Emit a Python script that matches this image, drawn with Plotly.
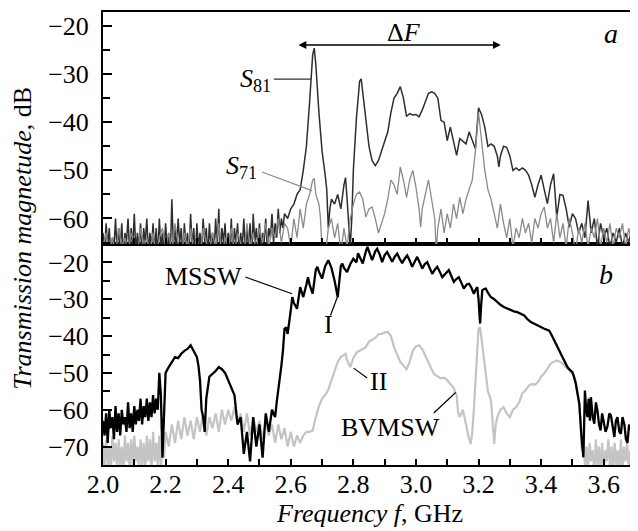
import plotly.graph_objects as go

# ---------------- data ----------------
# Panel a: S81 (dark) and S71 (grey), frequency in GHz, dB
S81_FREQ = [
    2.000, 2.005, 2.010, 2.015, 2.020, 2.025, 2.030, 2.035, 2.040, 2.045,
    2.050, 2.055, 2.060, 2.065, 2.070, 2.075, 2.080, 2.085, 2.090, 2.095,
    2.100, 2.105, 2.110, 2.115, 2.120, 2.125, 2.130, 2.135, 2.140, 2.145,
    2.150, 2.155, 2.160, 2.165, 2.170, 2.175, 2.180, 2.185, 2.190, 2.195,
    2.200, 2.205, 2.210, 2.215, 2.220, 2.225, 2.230, 2.235, 2.240, 2.245,
    2.250, 2.255, 2.260, 2.265, 2.270, 2.275, 2.280, 2.285, 2.290, 2.295,
    2.300, 2.305, 2.310, 2.315, 2.320, 2.325, 2.330, 2.335, 2.340, 2.345,
    2.350, 2.355, 2.360, 2.365, 2.370, 2.375, 2.380, 2.385, 2.390, 2.395,
    2.400, 2.405, 2.410, 2.415, 2.420, 2.425, 2.430, 2.435, 2.440, 2.445,
    2.450, 2.455, 2.460, 2.465, 2.470, 2.475, 2.480, 2.485, 2.490, 2.495,
    2.500, 2.505, 2.510, 2.515, 2.520, 2.525, 2.530, 2.535, 2.540, 2.545,
    2.550, 2.555, 2.560, 2.565, 2.570, 2.575, 2.580,
    2.59, 2.60, 2.61, 2.62, 2.63, 2.64, 2.65, 2.66, 2.67, 2.675,
    2.68, 2.69, 2.70, 2.71, 2.715, 2.72, 2.725, 2.73, 2.74, 2.75,
    2.76, 2.77, 2.775, 2.78, 2.785, 2.79, 2.795, 2.80, 2.81, 2.82,
    2.825, 2.83, 2.84, 2.85, 2.86, 2.87, 2.88, 2.89, 2.90, 2.91,
    2.92, 2.93, 2.94, 2.95, 2.96, 2.97, 2.98, 2.99, 3.00, 3.01,
    3.02, 3.03, 3.04, 3.05, 3.06, 3.07, 3.08, 3.09, 3.10, 3.11,
    3.12, 3.13, 3.14, 3.15, 3.16, 3.17, 3.18, 3.19, 3.20, 3.21,
    3.22, 3.23, 3.24, 3.25, 3.26, 3.265, 3.27, 3.28, 3.29, 3.30,
    3.31, 3.32, 3.33, 3.34, 3.35, 3.36, 3.37, 3.38, 3.39, 3.40,
    3.41, 3.42, 3.43, 3.44, 3.45, 3.46, 3.47, 3.48, 3.49, 3.50,
    3.51, 3.52, 3.53, 3.54, 3.55, 3.56, 3.57, 3.58, 3.59, 3.60,
    3.61, 3.62, 3.63, 3.64, 3.65, 3.66, 3.67, 3.68, 3.69, 3.70,
]
S81_DB = [
    -63, -67, -61, -66, -62, -68, -64, -66, -60, -67,
    -62, -66, -61, -68, -63, -65, -60, -67, -62, -66,
    -59, -67, -63, -66, -61, -68, -62, -65, -60, -67,
    -63, -66, -61, -67, -62, -68, -60, -66, -63, -67,
    -61, -66, -63, -68, -56, -66, -62, -67, -60, -65,
    -62, -68, -61, -66, -63, -67, -59, -66, -62, -68,
    -61, -66, -63, -67, -60, -65, -62, -68, -61, -66,
    -63, -67, -60, -66, -58, -68, -62, -65, -61, -67,
    -63, -66, -60, -68, -62, -65, -61, -67, -63, -66,
    -60, -67, -62, -66, -61, -68, -59, -65, -62, -66,
    -61, -67, -63, -65, -60, -66, -62, -64, -59, -65,
    -61, -64, -58, -63, -60, -62, -59,
    -60, -58, -57, -55, -54, -50, -45, -36, -26, -24.6,
    -28, -38, -46, -51, -54, -62, -58, -56, -57, -55,
    -58, -53, -51.5, -56, -62, -66, -60, -50, -39, -31.5,
    -31, -34, -39, -45, -48, -49, -48, -46, -44, -42,
    -38, -35, -34, -32.6, -35, -38.8, -38.2, -38.5, -38.4, -38.9,
    -37.5, -35.5, -34, -33.7, -34, -35, -39.6, -40, -43.8, -41,
    -44, -46.9, -43.4, -44, -44.5, -42, -44, -45.5, -37, -38.5,
    -41, -45, -44.5, -45, -47, -49.3, -47, -45, -45.2, -47,
    -50, -49.5, -50, -49.5, -50, -51, -53, -55.6, -53, -51,
    -54, -56.9, -53, -50.7, -59.7, -55, -55.2, -58, -61.8, -59,
    -60, -63, -61, -64, -56.3, -63, -60, -66, -61, -64,
    -62, -66, -63, -65, -62, -66, -63, -65, -62, -64,
]

S71_FREQ = [
    2.00, 2.01, 2.02, 2.03, 2.04, 2.05, 2.06, 2.07, 2.08, 2.09,
    2.10, 2.11, 2.12, 2.13, 2.14, 2.15, 2.16, 2.17, 2.18, 2.19,
    2.20, 2.21, 2.22, 2.23, 2.24, 2.25, 2.26, 2.27, 2.28, 2.29,
    2.30, 2.31, 2.32, 2.33, 2.34, 2.35, 2.36, 2.37, 2.38, 2.39,
    2.40, 2.41, 2.42, 2.43, 2.44, 2.45, 2.46, 2.47, 2.48, 2.49,
    2.50, 2.51, 2.52, 2.53, 2.54, 2.55, 2.56, 2.57, 2.58,
    2.59, 2.60, 2.61, 2.62, 2.63, 2.64, 2.65, 2.66, 2.67, 2.675,
    2.68, 2.69, 2.695, 2.70, 2.71, 2.72, 2.73, 2.74, 2.75, 2.76,
    2.77, 2.78, 2.79, 2.80, 2.81, 2.82, 2.83, 2.84, 2.85, 2.86,
    2.87, 2.88, 2.89, 2.90, 2.91, 2.92, 2.93, 2.94, 2.95, 2.96,
    2.97, 2.98, 2.99, 3.00, 3.01, 3.015, 3.02, 3.03, 3.04, 3.05,
    3.06, 3.065, 3.07, 3.08, 3.09, 3.10, 3.11, 3.12, 3.13, 3.14,
    3.15, 3.16, 3.17, 3.18, 3.19, 3.20, 3.21, 3.22, 3.23, 3.24,
    3.25, 3.26, 3.27, 3.28, 3.29, 3.30, 3.31, 3.32, 3.33, 3.34,
    3.35, 3.36, 3.37, 3.38, 3.39, 3.40, 3.41, 3.42, 3.43, 3.44,
    3.45, 3.46, 3.47, 3.48, 3.49, 3.50, 3.51, 3.52, 3.53, 3.54,
    3.55, 3.56, 3.57, 3.58, 3.59, 3.60, 3.61, 3.62, 3.63, 3.64,
    3.65, 3.66, 3.67, 3.68, 3.69, 3.70,
]
S71_DB = [
    -66, -63, -67, -64, -68, -62, -66, -64, -67, -63,
    -65, -68, -62, -66, -64, -67, -63, -68, -64, -62,
    -66, -63, -67, -61, -65, -68, -63, -66, -62, -67,
    -64, -68, -62, -65, -67, -63, -66, -61, -68, -64,
    -66, -62, -67, -63, -65, -68, -61, -66, -63, -67,
    -62, -65, -61, -66, -62, -64, -60, -65, -61,
    -62, -66, -60, -64, -58, -62, -57, -55, -52, -51.7,
    -55, -57, -60, -67, -68, -62, -60, -64, -61, -67,
    -62, -66, -60, -57, -55, -54.5, -56, -59.7, -58, -57.6,
    -60, -63, -61, -59, -56, -52, -53, -55, -49.3, -52,
    -55.6, -52, -50, -53.5, -58, -61.8, -58, -55, -52, -56,
    -60, -67, -62, -58, -63, -59, -62, -57, -60, -55.6,
    -59, -56, -54, -52, -46, -38, -44, -50, -54, -56,
    -59, -62, -57, -61, -64, -60, -66, -62, -64, -60,
    -63, -61, -65, -60, -62, -59, -57.6, -62, -60, -65,
    -59, -64, -61, -66, -60, -63, -67, -62, -65, -61,
    -66, -62, -64, -60, -66, -62, -65, -61, -66, -62,
    -64, -61, -66, -62, -65, -62,
]

# Panel b: MSSW (black, curve I) and BVMSW (light grey, curve II)
MSSW_FREQ = [
    2.000, 2.005, 2.010, 2.015, 2.020, 2.025, 2.030, 2.035, 2.040, 2.045,
    2.050, 2.055, 2.060, 2.065, 2.070, 2.075, 2.080, 2.085, 2.090, 2.095,
    2.100, 2.105, 2.110, 2.115, 2.120, 2.125, 2.130, 2.135, 2.140, 2.145,
    2.150, 2.155, 2.160, 2.165, 2.170, 2.175, 2.180,
    2.185, 2.19, 2.195, 2.20, 2.21, 2.22, 2.23, 2.24, 2.25, 2.26,
    2.27, 2.28, 2.29, 2.30, 2.305, 2.31, 2.315, 2.32, 2.325, 2.33,
    2.34, 2.35, 2.36, 2.37, 2.38, 2.39, 2.40, 2.41, 2.42, 2.425,
    2.43, 2.44, 2.45, 2.46, 2.47, 2.48, 2.49, 2.50, 2.51, 2.52,
    2.53, 2.54, 2.55, 2.555, 2.56, 2.57, 2.575, 2.58, 2.585, 2.59,
    2.60, 2.605, 2.61, 2.62, 2.63, 2.64, 2.65, 2.655, 2.66, 2.67,
    2.68, 2.685, 2.69, 2.70, 2.71, 2.72, 2.73, 2.74, 2.75, 2.755,
    2.76, 2.765, 2.77, 2.78, 2.79, 2.80, 2.81, 2.815, 2.82, 2.83,
    2.84, 2.845, 2.85, 2.86, 2.87, 2.876, 2.885, 2.892, 2.90, 2.908,
    2.916, 2.924, 2.932, 2.94, 2.948, 2.956, 2.964, 2.972, 2.98, 2.988,
    2.996, 3.004, 3.012, 3.02, 3.028, 3.036, 3.044, 3.052, 3.06, 3.068,
    3.076, 3.084, 3.095, 3.105, 3.113, 3.121, 3.129, 3.137, 3.145, 3.153,
    3.162, 3.17, 3.178, 3.185, 3.19, 3.196, 3.20, 3.203, 3.205, 3.208,
    3.212, 3.218, 3.223, 3.23, 3.239, 3.25, 3.26, 3.27, 3.281, 3.29,
    3.303, 3.313, 3.324, 3.335, 3.346, 3.355, 3.367, 3.377, 3.388, 3.40,
    3.41, 3.42, 3.426, 3.435, 3.442, 3.452, 3.463, 3.473, 3.484, 3.492,
    3.50, 3.505, 3.511, 3.517, 3.522, 3.529, 3.535, 3.54, 3.544, 3.548,
    3.552, 3.556, 3.559, 3.565, 3.57, 3.575, 3.58, 3.585, 3.59, 3.595,
    3.60, 3.606, 3.612, 3.618, 3.623, 3.628, 3.634, 3.639, 3.644, 3.65,
    3.655, 3.66, 3.666, 3.671, 3.676, 3.681, 3.687, 3.692, 3.697, 3.70,
]
MSSW_DB = [
    -63, -67, -61, -69, -60, -65, -62, -68, -59, -66,
    -61, -67, -60, -64, -62, -66, -58, -65, -61, -66,
    -59, -64, -60, -63, -57, -64, -59, -62, -57, -63,
    -58, -62, -56, -61, -57, -60, -50,
    -56, -73, -62, -50, -48.4, -47, -45.7, -46, -44.8, -44,
    -43.5, -42.5, -44, -45.7, -48, -52, -60, -62, -66, -57,
    -51, -50.2, -49.5, -48.4, -49, -50, -52, -53.5, -56, -60,
    -64, -62, -72, -66, -74, -62, -70, -64, -73, -61,
    -66, -60, -62, -58, -55, -48, -44, -38, -37.6, -39.4,
    -33, -29.4, -31, -32.6, -26.7, -29.4, -26, -24, -26, -28.5,
    -22, -21.2, -22.5, -24.4, -21, -19.4, -21.5, -25, -29.4, -26,
    -21, -20.3, -21.5, -22.6, -20.5, -19, -20, -17.5, -18.5, -20.3,
    -17, -15.8, -17, -19.4, -17, -16.3, -18, -19.9, -18, -17.2,
    -18.5, -19.8, -18.5, -17.6, -19, -20.2, -19, -18.1, -19.5, -21.2,
    -19.8, -18.5, -20, -21.7, -20.5, -19.9, -21.5, -23.1, -22, -21.2,
    -22.5, -24, -23, -22.1, -23.7, -25.3, -24.5, -24, -25.5, -27.1,
    -26, -25.8, -27, -28.5, -27.5, -26.7, -30, -35, -36.6, -32,
    -27.6, -27.2, -27.1, -28.2, -29.4, -30, -30.8, -31.5, -32.1, -32.5,
    -33, -33.3, -33.5, -34, -34.4, -35.3, -36.2, -36.6, -37.1, -37.5,
    -38, -38.3, -38.5, -40, -41.2, -43, -44.8, -46.6, -48.4, -49.2,
    -49.8, -51, -53, -56, -58.4, -67.4, -72.9, -54.8, -60, -62,
    -57, -63, -56.6, -62, -63.8, -58, -60.2, -64, -65.6, -61,
    -63, -66, -64.5, -61, -61.5, -64, -67.4, -63, -62, -66,
    -66.5, -62, -64, -68, -69, -64, -65.5, -63, -71, -66,
]

BVMSW_FREQ = [
    2.000, 2.005, 2.010, 2.015, 2.020, 2.025, 2.030, 2.035, 2.040, 2.045,
    2.050, 2.055, 2.060, 2.065, 2.070, 2.075, 2.080, 2.085, 2.090, 2.095,
    2.100, 2.105, 2.110, 2.115, 2.120, 2.125, 2.130, 2.135, 2.140, 2.145,
    2.150, 2.155, 2.160, 2.165, 2.170, 2.175, 2.180, 2.185, 2.190, 2.195,
    2.200,
    2.21, 2.22, 2.23, 2.24, 2.25, 2.26, 2.27, 2.28, 2.29,
    2.30, 2.31, 2.32, 2.33, 2.34, 2.35, 2.36, 2.37, 2.38, 2.39,
    2.40, 2.41, 2.42, 2.43, 2.44, 2.45, 2.46, 2.47, 2.48, 2.49,
    2.50, 2.51, 2.52, 2.53, 2.54, 2.55, 2.56, 2.57, 2.58, 2.59,
    2.60, 2.61, 2.62, 2.63, 2.64, 2.65, 2.66,
    2.67, 2.68, 2.69, 2.70, 2.71, 2.72, 2.73, 2.74, 2.75, 2.76,
    2.77, 2.775, 2.78, 2.79, 2.80, 2.81, 2.82, 2.83, 2.84, 2.85,
    2.86, 2.87, 2.88, 2.89, 2.90, 2.91, 2.92, 2.93, 2.94, 2.95,
    2.96, 2.97, 2.98, 2.99, 3.00, 3.01, 3.02, 3.03, 3.04, 3.05,
    3.06, 3.07, 3.08, 3.09, 3.10, 3.11, 3.12, 3.13, 3.135, 3.14,
    3.15, 3.16, 3.165, 3.17, 3.175, 3.18, 3.185, 3.19, 3.195, 3.20,
    3.205, 3.21, 3.215, 3.22, 3.225, 3.23, 3.24, 3.245, 3.25, 3.255,
    3.26, 3.27, 3.28, 3.29, 3.30, 3.31, 3.32, 3.33, 3.34, 3.35,
    3.36, 3.37, 3.38, 3.39, 3.40, 3.41, 3.42, 3.43, 3.44, 3.45,
    3.46, 3.47, 3.48, 3.49, 3.50, 3.51, 3.52, 3.525, 3.53, 3.535,
    3.540, 3.545, 3.550, 3.555, 3.560, 3.565, 3.570, 3.575, 3.580, 3.585,
    3.590, 3.595, 3.600, 3.605, 3.610, 3.615, 3.620, 3.625, 3.630, 3.635,
    3.640, 3.645, 3.650, 3.655, 3.660, 3.665, 3.670, 3.675, 3.680, 3.685,
    3.690, 3.695, 3.700,
]
BVMSW_DB = [
    -69, -76, -68, -75, -70, -77, -67, -74, -69, -76,
    -68, -75, -70, -77, -67, -74, -69, -76, -68, -75,
    -67, -74, -70, -76, -68, -75, -69, -77, -67, -74,
    -68, -76, -66, -74, -69, -75, -67, -76, -68, -73,
    -66,
    -70, -64, -69, -63, -68, -62, -67, -63, -68,
    -62, -66, -61, -67, -62, -65, -61, -66, -60, -64,
    -60, -63, -59.3, -64, -61, -66, -61, -67, -62, -66,
    -63, -68, -63, -67, -64, -69, -64, -68, -65, -70,
    -66, -70, -67, -69, -67, -66, -66,
    -65.6, -62, -59, -57, -56, -54.5, -52, -50, -47, -45.7,
    -45, -44.8, -46.5, -48.4, -46, -44.5, -44, -43.5, -43, -41.5,
    -41, -40.5, -39.5, -39.4, -39, -38.9, -40, -43, -45, -47,
    -48, -49, -47, -44, -42.8, -42.5, -43.5, -45.5, -47.5, -49,
    -50.5, -51, -51.5, -51.3, -52, -53, -54, -56, -61, -62,
    -60, -64, -66.5, -68, -69.3, -66, -60, -52, -43, -38,
    -37.6, -41, -45, -49, -52, -55, -57.5, -63, -69.3, -64,
    -62, -60, -59.3, -61, -62, -60, -59.3, -58, -55.5, -54.8,
    -53.5, -53, -53.2, -52.5, -51, -50.2, -49, -47.5, -47, -46.6,
    -47, -47.5, -48.5, -49.5, -50.2, -52, -57, -62, -71, -68,
    -75, -70, -77, -69, -74, -71, -77, -68, -75, -70,
    -76, -69, -77, -71, -74, -68, -76, -70, -77, -69,
    -75, -71, -76, -68, -77, -70, -74, -69, -76, -71,
    -75, -70, -76,
]

X_TICK_LABELS = ["2.0", "2.2", "2.4", "2.6", "2.8", "3.0", "3.2", "3.4", "3.6"]
X_TICK_VALUES = [2.0, 2.2, 2.4, 2.6, 2.8, 3.0, 3.2, 3.4, 3.6]

for fr, db in ((S81_FREQ, S81_DB), (S71_FREQ, S71_DB),
               (MSSW_FREQ, MSSW_DB), (BVMSW_FREQ, BVMSW_DB)):
    assert len(fr) == len(db), (len(fr), len(db))

# ---------------- figure ----------------
FONT = "Liberation Serif, Times New Roman, serif"
FS_TICK = 26
FS = 26

fig = go.Figure()
fig.add_trace(go.Scatter(x=BVMSW_FREQ, y=BVMSW_DB, mode="lines",
                         line=dict(color="#c4c4c4", width=2.2),
                         xaxis="x", yaxis="y", showlegend=False))
fig.add_trace(go.Scatter(x=MSSW_FREQ, y=MSSW_DB, mode="lines",
                         line=dict(color="#000000", width=2.3),
                         xaxis="x", yaxis="y", showlegend=False))
fig.add_trace(go.Scatter(x=S81_FREQ, y=S81_DB, mode="lines",
                         line=dict(color="#2e2e2e", width=1.5),
                         xaxis="x2", yaxis="y2", showlegend=False))
fig.add_trace(go.Scatter(x=S71_FREQ, y=S71_DB, mode="lines",
                         line=dict(color="#8a8a8a", width=1.3),
                         xaxis="x2", yaxis="y2", showlegend=False))

split = 221 / 453

axis_common = dict(showline=True, mirror=True, linewidth=2, linecolor="black",
                   showgrid=False, zeroline=False, ticks="inside",
                   tickcolor="black", tickwidth=1.5, automargin=False,
                   tickfont=dict(family=FONT, size=FS_TICK, color="black"))

xcommon = dict(axis_common, range=[2.0, 3.7], tickvals=X_TICK_VALUES,
               ticktext=X_TICK_LABELS, ticklen=6, ticklabelstandoff=-5,
               minor=dict(dtick=0.1, tick0=2.0, ticks="inside", ticklen=6,
                          tickwidth=1.5, tickcolor="black"))

ycommon = dict(axis_common, dtick=10, tick0=-20, ticklen=9, ticklabelstandoff=7,
               minor=dict(dtick=5, tick0=-20, ticks="inside", ticklen=7,
                          tickwidth=1.5, tickcolor="black"))

# the page body adds an 8 px offset; the figure is sized to compensate
fig.update_layout(
    width=630, height=523,
    margin=dict(l=95, r=3, t=4, b=66, autoexpand=False),
    paper_bgcolor="white", plot_bgcolor="white",
    font=dict(family=FONT, size=FS, color="black"),
    xaxis=dict(xcommon, anchor="y", domain=[0, 1]),
    xaxis2=dict(xcommon, anchor="y2", matches="x", showticklabels=False),
    yaxis=dict(ycommon, anchor="x", domain=[0, split], range=[-75, -15]),
    yaxis2=dict(ycommon, anchor="x2", domain=[split, 1], range=[-65.3, -17.1]),
)

tfont = dict(family=FONT, size=FS, color="black")
ann = []
# axis titles
ann.append(dict(xref="paper", yref="paper", x=-0.152, y=0.5,
                text="<i>Transmission magnetude</i>, dB", textangle=-90,
                showarrow=False, font=tfont, xanchor="center", yanchor="middle"))
ann.append(dict(xref="paper", yref="paper", x=0.5, y=-0.107,
                text="<i>Frequency f</i>, GHz", showarrow=False, font=tfont,
                xanchor="center", yanchor="middle"))
# panel letters
ann.append(dict(xref="x2", yref="y2", x=3.623, y=-21.5, text="<i>a</i>",
                showarrow=False, font=dict(tfont, size=28)))
ann.append(dict(xref="x", yref="y", x=3.607, y=-23.3, text="<i>b</i>",
                showarrow=False, font=dict(tfont, size=28)))
# Delta F double arrow
ann.append(dict(xref="x2", yref="y2", axref="x2", ayref="y2",
                x=3.271, y=-23.96, ax=2.62, ay=-23.96, text="",
                showarrow=True, arrowhead=2, arrowside="end+start",
                arrowsize=1.2, arrowwidth=1.3, arrowcolor="black"))
ann.append(dict(xref="x2", yref="y2", x=2.961, y=-21.4, text="Δ<i>F</i>",
                showarrow=False, font=tfont))
# curve labels, panel a
ann.append(dict(xref="x2", yref="y2", x=2.543, y=-31.2,
                text="<i>S</i><sub>81</sub>", showarrow=False, font=tfont,
                xanchor="right", yanchor="middle"))
ann.append(dict(xref="x2", yref="y2", x=2.500, y=-49.4,
                text="<i>S</i><sub>71</sub>", showarrow=False, font=tfont,
                xanchor="right", yanchor="middle"))
# curve labels, panel b
ann.append(dict(xref="x", yref="y", x=2.451, y=-23.9, text="MSSW",
                showarrow=False, font=tfont, xanchor="right", yanchor="middle"))
ann.append(dict(xref="x", yref="y", x=2.721, y=-36.9, text="I",
                showarrow=False, font=tfont))
ann.append(dict(xref="x", yref="y", x=2.879, y=-52.3, text="II",
                showarrow=False, font=tfont))
ann.append(dict(xref="x", yref="y", x=2.919, y=-64.9, text="BVMSW",
                showarrow=False, font=tfont))
fig.update_layout(annotations=ann)

# leader lines
shapes = [
    dict(type="line", xref="x2", yref="y2", x0=2.546, y0=-31.04, x1=2.666, y1=-31.04,
         line=dict(color="#2e2e2e", width=1.2)),
    dict(type="line", xref="x2", yref="y2", x0=2.508, y0=-50.35, x1=2.668, y1=-54.2,
         line=dict(color="#8a8a8a", width=1.2)),
    dict(type="line", xref="x", yref="y", x0=2.455, y0=-23.97, x1=2.604, y1=-28.5,
         line=dict(color="black", width=1.2)),
    dict(type="line", xref="x", yref="y", x0=2.727, y0=-34.4, x1=2.753, y1=-28.5,
         line=dict(color="black", width=1.2)),
    dict(type="line", xref="x", yref="y", x0=2.801, y0=-48.7, x1=2.844, y1=-51.4,
         line=dict(color="black", width=1.2)),
    dict(type="line", xref="x", yref="y", x0=3.057, y0=-60.9, x1=3.127, y1=-55.3,
         line=dict(color="black", width=1.2)),
]
fig.update_layout(shapes=shapes)

fig.write_html("out.html")
